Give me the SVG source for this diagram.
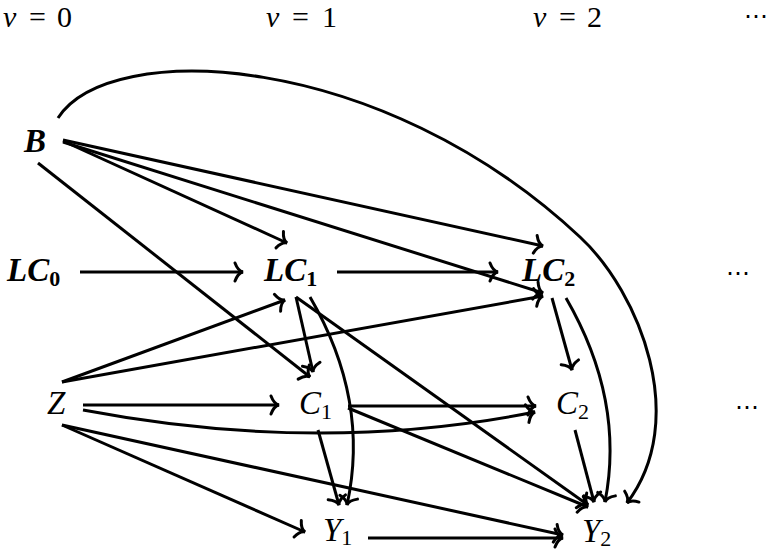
<svg xmlns="http://www.w3.org/2000/svg" width="771" height="552" viewBox="0 0 771 552">
<style>
.t{font-family:"Liberation Serif","DejaVu Serif",serif;font-style:italic;font-size:33px;fill:#000}
.h{font-family:"Liberation Serif","DejaVu Serif",serif;font-size:30px;fill:#000}
.i{font-style:italic}
.b{font-weight:bold}
.s{font-style:normal;font-size:22px}
.d{font-family:"Liberation Serif","DejaVu Serif",serif;font-size:24px;fill:#000}
.e{fill:none;stroke:#000;stroke-width:3;marker-end:url(#ah)}
</style>
<defs>
<marker id="ah" markerUnits="userSpaceOnUse" markerWidth="30" markerHeight="30" viewBox="-15 -15 30 30" refX="0" refY="0" orient="auto" overflow="visible">
<path d="M-8,-9 Q-5,-1 0,0 Q-5,1 -8,9" fill="none" stroke="#000" stroke-width="3" stroke-linecap="round"/>
</marker>
</defs>
<rect width="771" height="552" fill="#fff"/>
<g id="headers">
<text class="h" y="27"><tspan class="i" x="3">v</tspan><tspan x="29">=</tspan><tspan x="57">0</tspan></text>
<text class="h" y="27"><tspan class="i" x="266">v</tspan><tspan x="292">=</tspan><tspan x="322">1</tspan></text>
<text class="h" y="27"><tspan class="i" x="533">v</tspan><tspan x="559">=</tspan><tspan x="587">2</tspan></text>
<text class="d" x="768" y="24" text-anchor="end">⋯</text>
</g>
<g id="connectors">
<path class="e" d="M58,118 C110,38 380,50 580,237 C640,293 690,420 627,503"/>
<path class="e" d="M63,140 L543,246"/>
<path class="e" d="M63,141 L287,243"/>
<path class="e" d="M63,142 L543,293"/>
<path class="e" d="M38,163 L310,377"/>
<path class="e" d="M80,272 L243,272"/>
<path class="e" d="M337,272 L498,272"/>
<path class="e" d="M296,297 L313,372"/>
<path class="e" d="M310,297 Q370,400 347,505"/>
<path class="e" d="M296,297 L588,505"/>
<path class="e" d="M552,298 L572,370"/>
<path class="e" d="M566,298 Q625,400 605,502"/>
<path class="e" d="M62,382 L285,300"/>
<path class="e" d="M62,382 L543,296"/>
<path class="e" d="M83,405 L279,405"/>
<path class="e" d="M83,410 Q320,455 535,412"/>
<path class="e" d="M62,425 L305,532"/>
<path class="e" d="M62,425 L563,535"/>
<path class="e" d="M348,406 L536,406"/>
<path class="e" d="M318,430 L339,505"/>
<path class="e" d="M348,408 L588,507"/>
<path class="e" d="M575,430 L594,502"/>
<path class="e" d="M368,538 L563,538"/>
</g>
<g id="B"><text class="t b" x="24" y="152">B</text></g>
<g id="LC0"><text class="t b" x="7" y="281">LC<tspan class="s" dy="5">0</tspan></text></g>
<g id="LC1"><text class="t b" x="264" y="281">LC<tspan class="s" dy="5">1</tspan></text></g>
<g id="LC2"><text class="t b" x="522" y="281">LC<tspan class="s" dy="5">2</tspan></text></g>
<g id="dots1"><text class="d" x="726" y="281">⋯</text></g>
<g id="Z"><text class="t" x="47" y="414">Z</text></g>
<g id="C1"><text class="t" x="299" y="414">C<tspan class="s" dy="5">1</tspan></text></g>
<g id="C2"><text class="t" x="556" y="414">C<tspan class="s" dy="5">2</tspan></text></g>
<g id="dots2"><text class="d" x="735" y="415">⋯</text></g>
<g id="Y1"><text class="t" x="323" y="541">Y<tspan class="s" font-size="21" dy="4">1</tspan></text></g>
<g id="Y2"><text class="t" x="582" y="542">Y<tspan class="s" font-size="21" dy="4">2</tspan></text></g>
</svg>
